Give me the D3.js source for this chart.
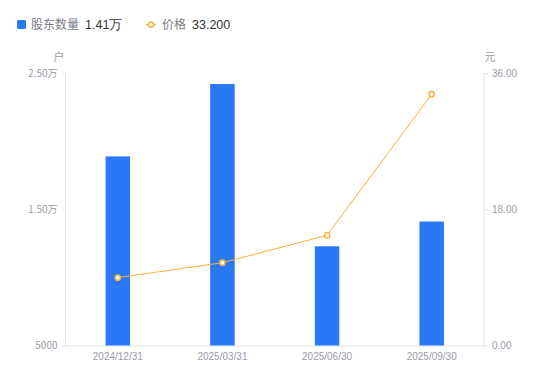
<!DOCTYPE html>
<html>
<head>
<meta charset="utf-8">
<script src="https://cdn.jsdelivr.net/npm/d3@7"></script>
<style>
  body { margin: 0; background: #fff; }
  text { font-family: "Noto Sans CJK SC", "Noto Sans", sans-serif; }
</style>
</head>
<body>
<div id="chart"></div>
<script>
// data
const dates = ['2024/12/31', '2025/03/31', '2025/06/30', '2025/09/30'];
const holders = [18880, 24190, 12280, 14100];
const prices = [8.96, 10.94, 14.56, 33.20];
const leftTicks = [5000, 15000, 25000];
const rightTicks = [0, 18, 36];

const width = 550, height = 381;
const margin = { top: 73, right: 66, bottom: 35.5, left: 65.5 };

const svg = d3.select('#chart').append('svg')
    .attr('width', width)
    .attr('height', height);

const x = d3.scaleBand()
    .domain(dates)
    .range([margin.left, width - margin.right]);

const yLeft = d3.scaleLinear()
    .domain([5000, 25000])
    .range([height - margin.bottom, margin.top]);

const yRight = d3.scaleLinear()
    .domain([0, 36])
    .range([height - margin.bottom, margin.top]);

const fmtLeft = v => v >= 10000 ? (v / 10000).toFixed(2) + '万' : String(v);

const axisColor = '#e0e3e8';
const labelColor = '#9a9ca8';

// left axis
const gl = svg.append('g')
    .attr('transform', `translate(${margin.left},0)`)
    .call(d3.axisLeft(yLeft).tickValues(leftTicks).tickFormat(fmtLeft).tickSize(4).tickPadding(4));

// right axis
const gr = svg.append('g')
    .attr('transform', `translate(${width - margin.right},0)`)
    .call(d3.axisRight(yRight).tickValues(rightTicks).tickFormat(d3.format('.2f')).tickSize(4).tickPadding(4));

// bottom axis
const gb = svg.append('g')
    .attr('transform', `translate(0,${height - margin.bottom})`)
    .call(d3.axisBottom(x).tickSize(0).tickPadding(7));

[gl, gr, gb].forEach(g => {
    g.select('.domain').attr('stroke', axisColor);
    g.selectAll('.tick line').attr('stroke', axisColor);
    g.selectAll('.tick text')
        .attr('fill', labelColor)
        .style('font-family', '"Liberation Sans", Arial, sans-serif')
        .style('font-size', '10px');
});
gb.select('.domain').attr('d', `M${margin.left},0.5H${width - margin.right}`);
gl.select('.domain').attr('d', `M0,${margin.top}V${height - margin.bottom}`);
gr.select('.domain').attr('d', `M0,${margin.top}V${height - margin.bottom}`);
gl.selectAll('.tick text').style('font-family', '"Noto Sans CJK SC", sans-serif');

// unit labels
svg.append('text')
    .attr('x', 59).attr('y', 61)
    .attr('text-anchor', 'middle')
    .attr('fill', labelColor)
    .style('font-size', '11px')
    .text('户');
svg.append('text')
    .attr('x', 490).attr('y', 61)
    .attr('text-anchor', 'middle')
    .attr('fill', labelColor)
    .style('font-size', '11px')
    .text('元');

// bars
const barW = 24.5;
svg.append('g')
    .selectAll('rect')
    .data(holders)
    .join('rect')
    .attr('x', (d, i) => x(dates[i]) + x.bandwidth() / 2 - barW / 2)
    .attr('y', d => yLeft(d))
    .attr('width', barW)
    .attr('height', d => yLeft(5000) - yLeft(d))
    .attr('fill', '#2878f7');

// price line
const orange = '#f7b23b';
const line = d3.line()
    .x((d, i) => x(dates[i]) + x.bandwidth() / 2)
    .y(d => yRight(d));

svg.append('path')
    .datum(prices)
    .attr('d', line)
    .attr('fill', 'none')
    .attr('stroke', orange)
    .attr('stroke-width', 1);

svg.append('g')
    .selectAll('circle')
    .data(prices)
    .join('circle')
    .attr('cx', (d, i) => x(dates[i]) + x.bandwidth() / 2)
    .attr('cy', d => yRight(d))
    .attr('r', 2.6)
    .attr('fill', '#fff')
    .attr('stroke', orange)
    .attr('stroke-width', 1.5);

// legend
const legend = svg.append('g').style('font-size', '12px');
legend.append('rect')
    .attr('x', 17).attr('y', 20).attr('width', 9).attr('height', 9)
    .attr('rx', 1.5)
    .attr('fill', '#2878f7');
legend.append('text')
    .attr('x', 31).attr('y', 29)
    .attr('fill', '#7a7c86')
    .text('股东数量');
legend.append('text')
    .attr('x', 85).attr('y', 29)
    .attr('fill', '#333')
    .style('font-family', '"Liberation Sans", Arial, sans-serif')
    .style('font-size', '12.5px')
    .text('1.41万');

legend.append('line')
    .attr('x1', 146).attr('x2', 156).attr('y1', 24.5).attr('y2', 24.5)
    .attr('stroke', orange).attr('stroke-width', 1.5);
legend.append('circle')
    .attr('cx', 151).attr('cy', 24.5).attr('r', 2.6)
    .attr('fill', '#fff').attr('stroke', orange).attr('stroke-width', 1.5);
legend.append('text')
    .attr('x', 162).attr('y', 29)
    .attr('fill', '#7a7c86')
    .text('价格');
legend.append('text')
    .attr('x', 192).attr('y', 29)
    .attr('fill', '#333')
    .style('font-family', '"Liberation Sans", Arial, sans-serif')
    .style('font-size', '12.5px')
    .text('33.200');
</script>
</body>
</html>
